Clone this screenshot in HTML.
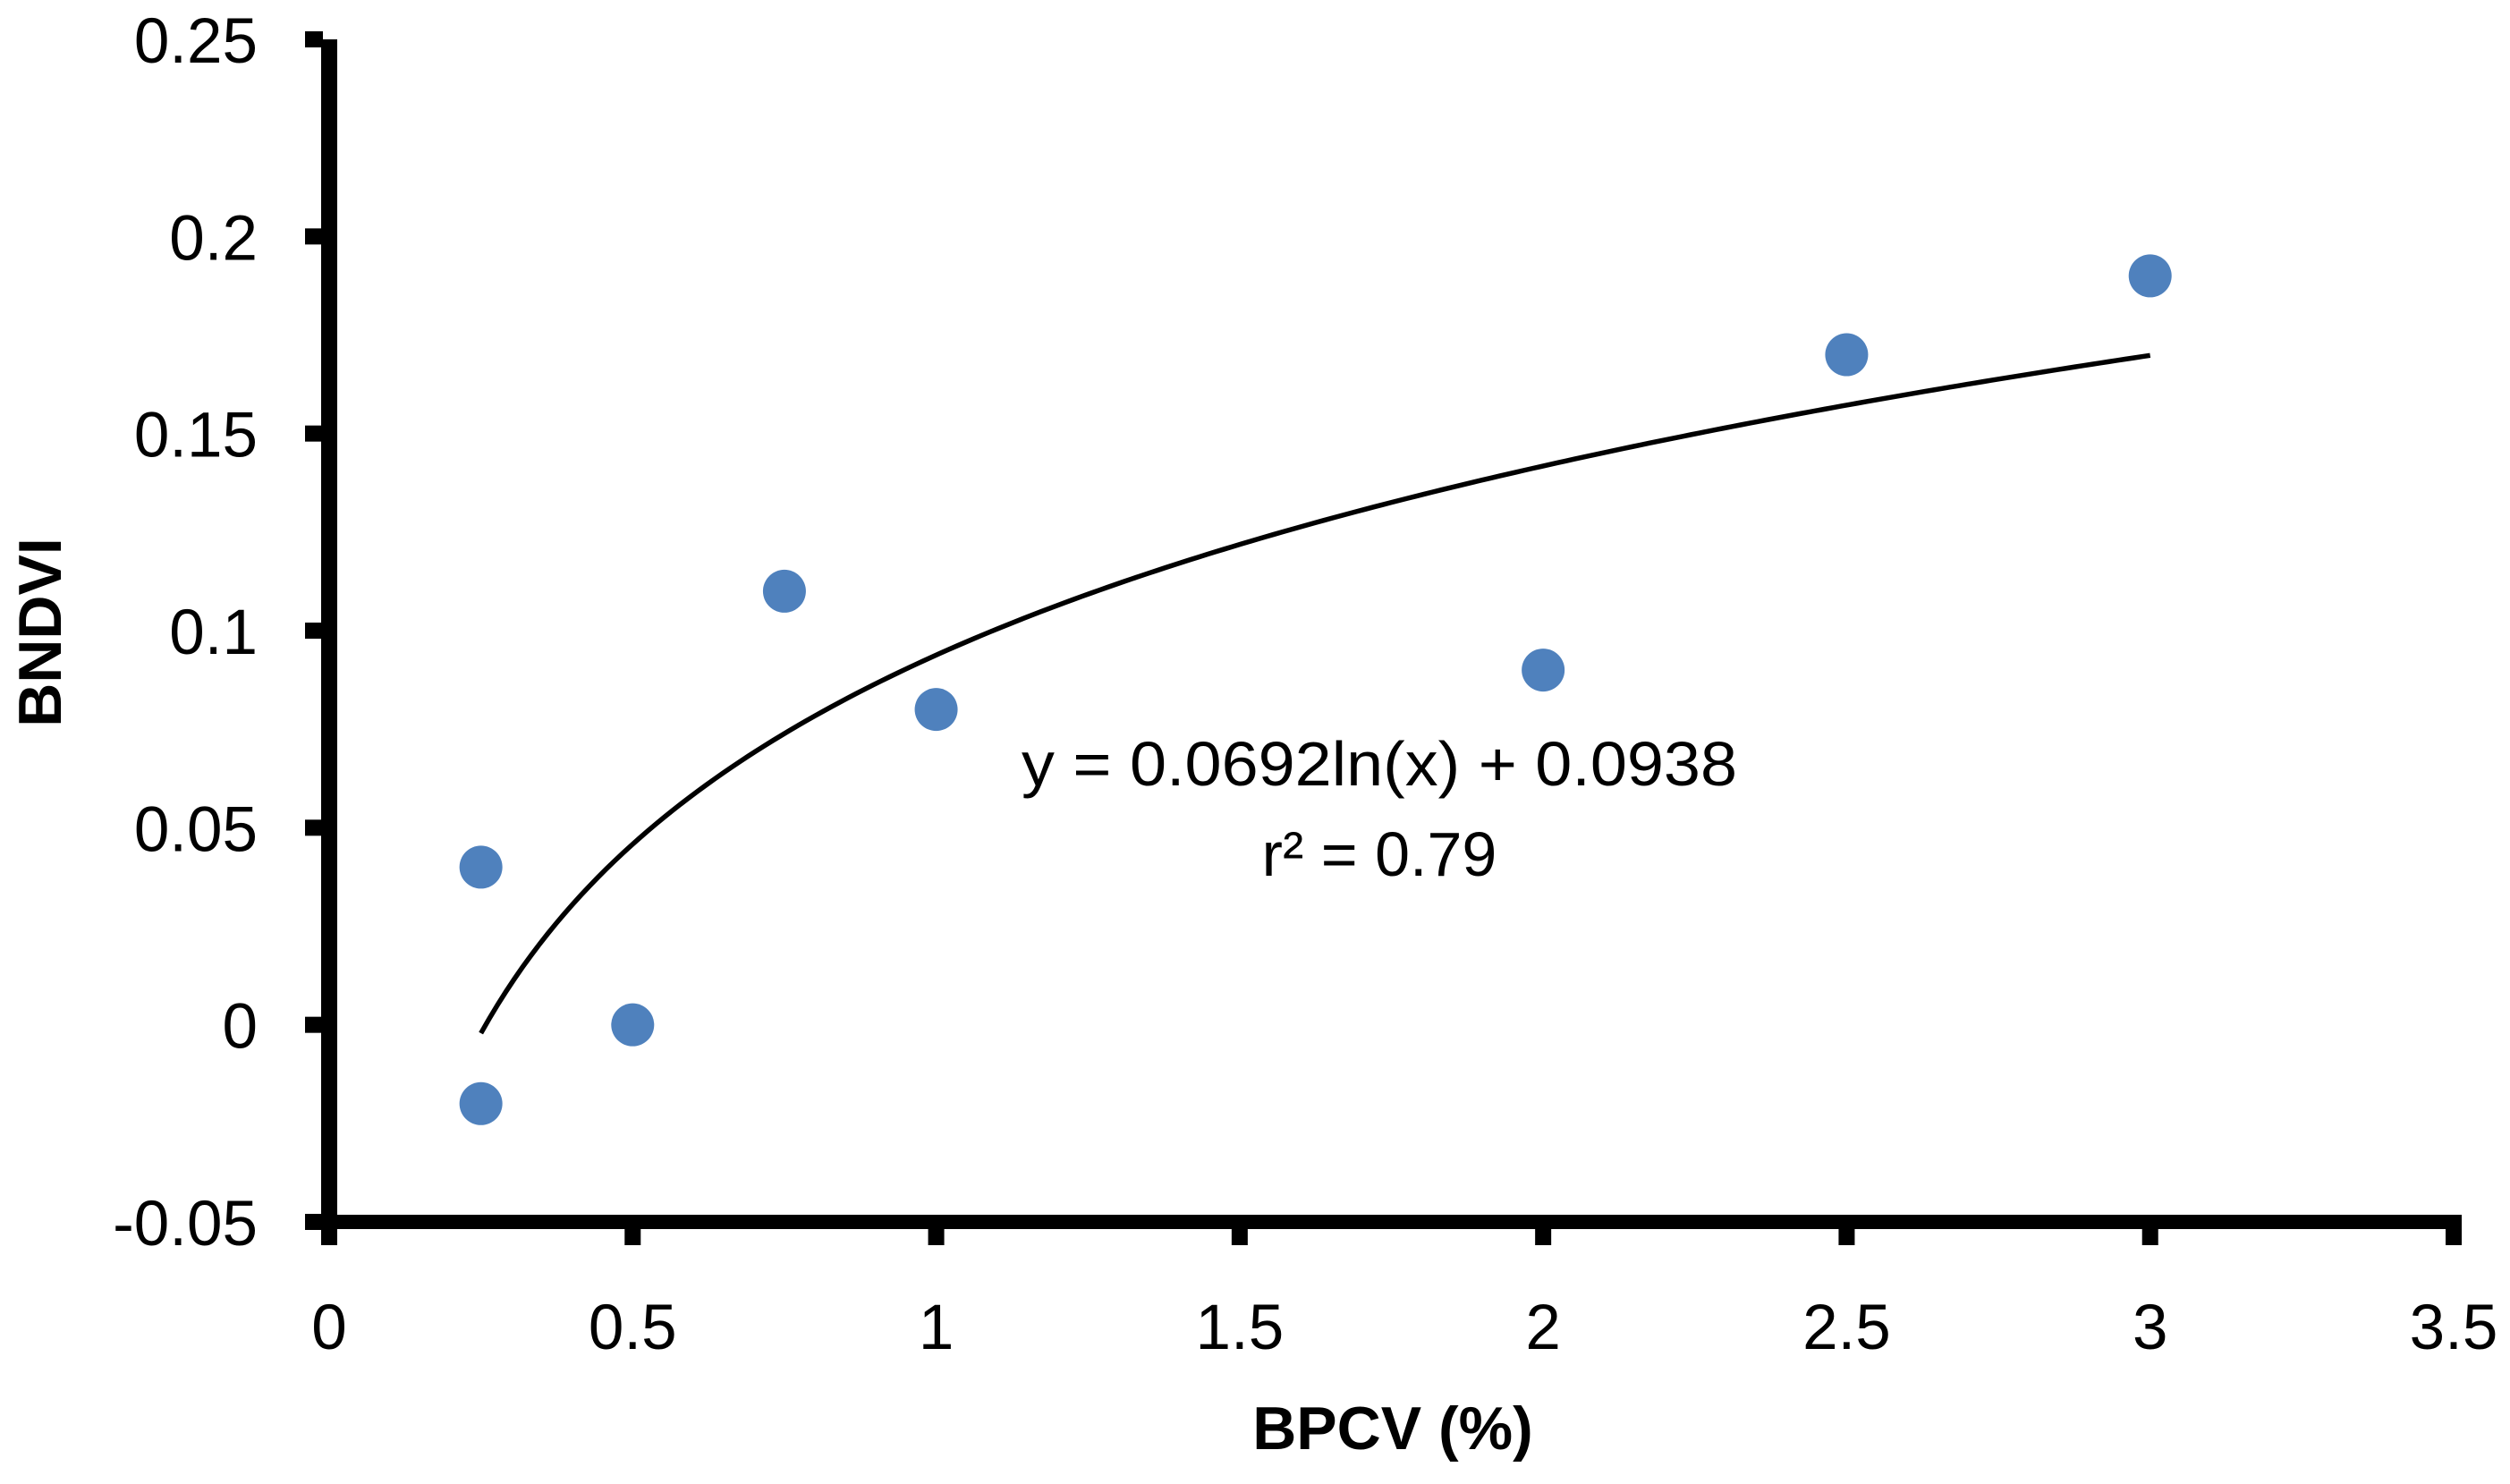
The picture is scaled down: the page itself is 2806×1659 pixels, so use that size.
<!DOCTYPE html>
<html><head><meta charset="utf-8"><style>
html,body{margin:0;padding:0;background:#fff;}
svg{display:block;}
text{font-family:"Liberation Sans",sans-serif;fill:#000;}
</style></head><body>
<svg id="chart" width="2806" height="1659" viewBox="0 0 2806 1659" xmlns="http://www.w3.org/2000/svg">
<g id="grid"></g>
<g id="marks"></g>
<g id="axes"></g>
<text x="1557" y="1620" font-size="68" font-weight="bold" text-anchor="middle">BPCV (%)</text>
<text transform="translate(68,707) rotate(-90)" font-size="68" font-weight="bold" text-anchor="middle">BNDVI</text>
<text x="1542" y="878" font-size="70" text-anchor="middle" textLength="800" lengthAdjust="spacingAndGlyphs">y = 0.0692ln(x) + 0.0938</text>
<text x="1542" y="979" font-size="70" text-anchor="middle">r² = 0.79</text>
</svg>
<script>
const xValues = [0.25, 0.25, 0.5, 0.75, 1, 2, 2.5, 3];
const yValues = [0.04, -0.02, 0, 0.11, 0.08, 0.09, 0.17, 0.19];
const xTicks = [0, 0.5, 1, 1.5, 2, 2.5, 3, 3.5];
const yTicks = [-0.05, 0, 0.05, 0.1, 0.15, 0.2, 0.25];
const xTickLabels = ["0","0.5","1","1.5","2","2.5","3","3.5"];
const yTickLabels = ["-0.05","0","0.05","0.1","0.15","0.2","0.25"];
const trendSlope = 0.0692;
const trendIntercept = 0.0938;
const trendRange = [0.25, 3];

const NS = "http://www.w3.org/2000/svg";
const X0 = 368, X1 = 2743, Y0 = 1366, Y1 = 44;
function sx(v){ return X0 + (v - 0) / (3.5 - 0) * (X1 - X0); }
function sy(v){ return Y0 - (v - (-0.05)) / (0.25 - (-0.05)) * (Y0 - Y1); }
function mk(tag, attrs){ const e = document.createElementNS(NS, tag); for (const k in attrs) e.setAttribute(k, attrs[k]); return e; }

const marks = document.getElementById('marks');
const axes = document.getElementById('axes');

let d = "";
for (let i = 0; i <= 200; i++) {
  const xv = trendRange[0] + (trendRange[1] - trendRange[0]) * i / 200;
  const yv = trendSlope * Math.log(xv) + trendIntercept;
  d += (i ? "L" : "M") + sx(xv).toFixed(2) + "," + sy(yv).toFixed(2);
}
const tl = mk('path', {d: d, fill: 'none', stroke: '#000', 'stroke-width': 5.5});


marks.appendChild(tl);

for (let i = 0; i < xValues.length; i++) {
  const c = mk('ellipse', {cx: sx(xValues[i]), cy: sy(yValues[i]), rx: 24, ry: 24, fill: '#4F81BD'});
  
  
  marks.appendChild(c);
}

const ya = mk('rect', {x: 359, y: Y1, width: 18, height: Y0 + 8 - Y1, fill: '#000'});


axes.appendChild(ya);
const xa = mk('rect', {x: 341, y: 1358, width: X1 + 9 - 341, height: 16, fill: '#000'});


axes.appendChild(xa);

for (let i = 0; i < yTicks.length; i++) {
  const y = sy(yTicks[i]);
  const t = mk('rect', {x: 341, y: y - 9, width: 20, height: 18, fill: '#000'});
  
  
  axes.appendChild(t);
  const lb = mk('text', {x: 288, y: y + 26, 'font-size': 71, 'text-anchor': 'end'});
  lb.textContent = yTickLabels[i];
  
  
  axes.appendChild(lb);
}
for (let i = 0; i < xTicks.length; i++) {
  const x = sx(xTicks[i]);
  const t = mk('rect', {x: x - 9, y: 1366, width: 18, height: 26, fill: '#000'});
  
  
  axes.appendChild(t);
  const lb = mk('text', {x: x, y: 1508, 'font-size': 71, 'text-anchor': 'middle'});
  lb.textContent = xTickLabels[i];
  
  
  axes.appendChild(lb);
}
</script>
</body></html>
